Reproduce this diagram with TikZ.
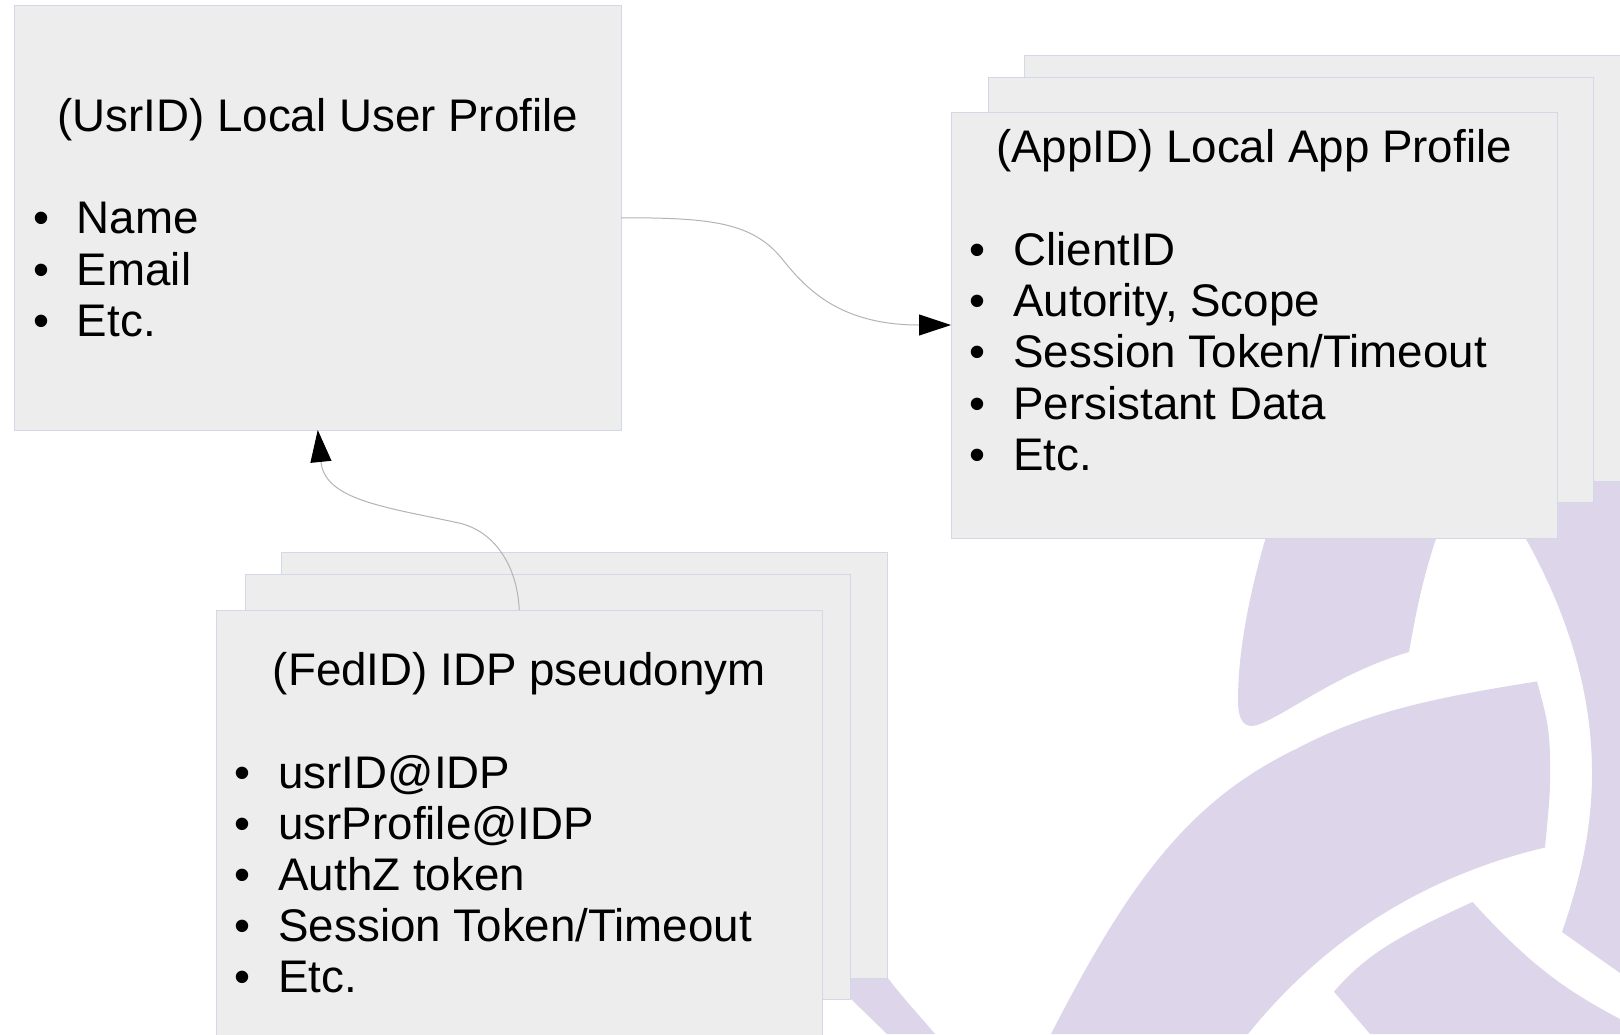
\documentclass[tikz,border=0pt]{standalone}
\usepackage{fontspec}
\setmainfont{Liberation Sans}
\usetikzlibrary{arrows.meta}
\definecolor{logopurple}{HTML}{DDD5EA}
\definecolor{boxfill}{HTML}{EDEDED}
\definecolor{boxline}{HTML}{D3D7E6}
\definecolor{linkline}{HTML}{B4B4B4}
\newcommand{\bul}[1]{\makebox[22pt][l]{\textbullet}#1}
\tikzset{
  x=0.5pt,y=-0.5pt,
  panel/.style={draw=boxline,fill=boxfill,line width=0.5pt,inner sep=0pt,outer sep=0pt,minimum width=303pt,minimum height=213pt},
  lab/.style={inner sep=0pt,outer sep=0pt,font=\fontsize{22.85pt}{25.7pt}\selectfont,text=black},
  title/.style={lab,anchor=base},
  item/.style={lab,anchor=base west},
  link/.style={draw=linkline,line width=0.5pt,-{Triangle[length=16pt,width=10.5pt,fill=black,color=black]}},
  logo/.style={fill=logopurple,draw=none}
}
\begin{document}
\begin{tikzpicture}
\useasboundingbox (0,0) rectangle (1620,1034);
\fill[white] (0,0) rectangle (1620,1034);
% background logo
\fill[logo] (1268,530) .. controls (1250,590) and (1238,650) .. (1238,700) .. controls (1238,722) and (1245,730) .. (1260,724)
  .. controls (1290,712) and (1340,672) .. (1409,652)
  .. controls (1417,605) and (1425,570) .. (1439,530) -- cycle;
\fill[logo] (1051,1034) .. controls (1130,880) and (1190,800) .. (1297,748.5) .. controls (1370,710) and (1440,697) .. (1537,681.4)
  .. controls (1545,712) and (1550,725) .. (1550,763) .. controls (1551,790) and (1548,815) .. (1545,847.5)
  .. controls (1450,870) and (1340,920) .. (1248,1034) -- cycle;
\fill[logo] (1334,991.7) .. controls (1365,955) and (1400,935) .. (1472.5,902)
  .. controls (1530,965) and (1565,990) .. (1620,1019)
  -- (1620,1034) -- (1370,1034) -- cycle;
\fill[logo] (1515,520) .. controls (1560,595) and (1592,680) .. (1592,773) .. controls (1592,830) and (1580,880) .. (1562,932)
  -- (1620,973) -- (1620,470) -- (1510,470) -- cycle;
\fill[logo] (840,960) -- (875,960) .. controls (895,990) and (915,1010) .. (935,1034) -- (887,1034) -- (851,999) -- cycle;
% user profile
\node[panel,minimum width=303.25pt,minimum height=212.25pt] (usr) at (317.75,217.75) {};
% app profile stack
\node[panel] (appback) at (1327,268) {};
\node[panel,minimum width=302.5pt,minimum height=212.5pt] (appmid) at (1290.5,289.5) {};
\node[panel] (app) at (1254,325) {};
% federated stack
\node[panel] (fedback) at (584.5,765.5) {};
\node[panel,minimum width=302.75pt,minimum height=212.5pt] (fedmid) at (548,786.5) {};
\node[panel,minimum width=302.75pt] (fed) at (519.25,823) {};
% texts
\node[title] (usrt) at (317.7,131.5) {(UsrID) Local User Profile};
\node[item] (u1) at (33,233.5) {\bul{Name}};
\node[item] (u2) at (33,285) {\bul{Email}};
\node[item] (u3) at (33,336.5) {\bul{Etc.}};
\node[title] (appt) at (1254,162.5) {(AppID) Local App Profile};
\node[item] (a1) at (969.5,265.5) {\bul{ClientID}};
\node[item] (a2) at (969.5,316.7) {\bul{Autority, Scope}};
\node[item] (a3) at (969.5,367.9) {\bul{Session Token/Timeout}};
\node[item] (a4) at (969.5,419.1) {\bul{Persistant Data}};
\node[item] (a5) at (969.5,470.3) {\bul{Etc.}};
\node[title] (fedt) at (519.25,685) {(FedID) IDP pseudonym};
\node[item] (f1) at (234.5,788) {\bul{usrID@IDP}};
\node[item] (f2) at (234.5,839.2) {\bul{usrProfile@IDP}};
\node[item] (f3) at (234.5,890.4) {\bul{AuthZ token}};
\node[item] (f4) at (234.5,941.6) {\bul{Session Token/Timeout}};
\node[item] (f5) at (234.5,992.8) {\bul{Etc.}};
% connectors
\coordinate (c1) at (783,260);
\coordinate (c2) at (459,523);
\draw[link] (usr.east) .. controls +(90,0) and +(-30,-38) .. (c1) .. controls +(24,30) and +(-110,0) .. (app.west);
\draw[link] (fed.north) .. controls +(-2,-45) and +(35,8) .. (c2) .. controls +(-74,-16) and +(7,70) .. (usr.south);
\end{tikzpicture}
\end{document}
